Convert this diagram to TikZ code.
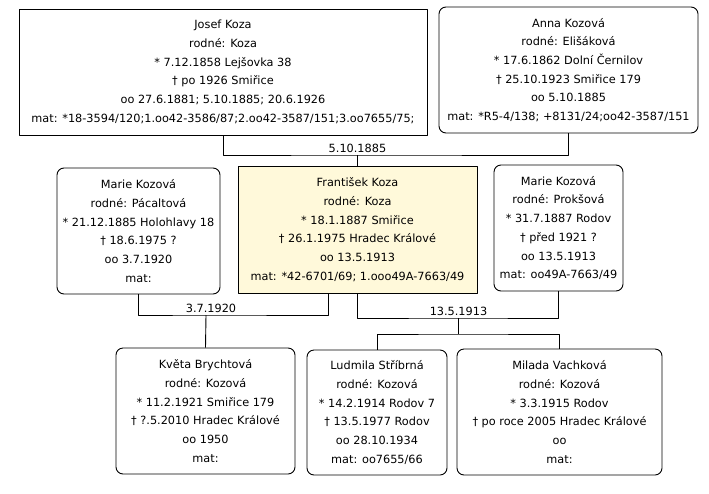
\documentclass[tikz,border=0pt]{standalone}
\usepackage{fontspec}
\setmainfont{DejaVu Sans}
\definecolor{zluta}{RGB}{255,249,218}
\begin{document}
\begin{tikzpicture}[x=1pt,y=-1pt,line join=round,
    font=\fontsize{11.3}{18.7}\selectfont,
    osoba/.style={draw,rectangle,align=center,inner sep=0pt,line width=0.9pt},
    zena/.style={osoba,rounded corners=7pt},
    hlavni/.style={osoba,fill=zluta},
    spoj/.style={line width=0.9pt},
    datum/.style={anchor=south,inner sep=2.5pt}]

  \useasboundingbox (0,0) rectangle (709,493);

  % ---- rodice -------------------------------------------------------------
  \node[osoba,minimum width=408pt,minimum height=126pt] (josef) at (223,72)
    {Josef Koza\\rodné: Koza\\* 7.12.1858 Lejšovka 38\\† po 1926 Smiřice\\
     oo 27.6.1881; 5.10.1885; 20.6.1926\\
     mat: *18-3594/120;1.oo42-3586/87;2.oo42-3587/151;3.oo7655/75;};
  \node[zena,minimum width=259pt,minimum height=126pt] (anna) at (568.5,70)
    {Anna Kozová\\rodné: Elišáková\\* 17.6.1862 Dolní Černilov\\
     † 25.10.1923 Smiřice 179\\oo 5.10.1885\\mat: *R5-4/138; +8131/24;oo42-3587/151};

  % ---- frantisek a jeho manzelky ------------------------------------------
  \node[hlavni,minimum width=239pt,minimum height=127pt] (frantisek) at (357.5,229.5)
    {František Koza\\rodné: Koza\\* 18.1.1887 Smiřice\\† 26.1.1975 Hradec Králové\\
     oo 13.5.1913\\mat: *42-6701/69; 1.ooo49A-7663/49};
  \node[zena,minimum width=163pt,minimum height=126pt] (marieP) at (138.5,231)
    {Marie Kozová\\rodné: Pácaltová\\* 21.12.1885 Holohlavy 18\\† 18.6.1975 ?\\
     oo 3.7.1920\\mat:};
  \node[zena,minimum width=129pt,minimum height=126pt] (marieR) at (558.5,228)
    {Marie Kozová\\rodné: Prokšová\\* 31.7.1887 Rodov\\† před 1921 ?\\
     oo 13.5.1913\\mat: oo49A-7663/49};

  % ---- deti ---------------------------------------------------------------
  \node[zena,minimum width=179pt,minimum height=126pt] (kveta) at (205.5,411)
    {Květa Brychtová\\rodné: Kozová\\* 11.2.1921 Smiřice 179\\
     † ?.5.2010 Hradec Králové\\oo 1950\\mat:};
  \node[zena,minimum width=140pt,minimum height=125pt] (ludmila) at (377,412.5)
    {Ludmila Stříbrná\\rodné: Kozová\\* 14.2.1914 Rodov 7\\† 13.5.1977 Rodov\\
     oo 28.10.1934\\mat: oo7655/66};
  \node[zena,minimum width=205pt,minimum height=126pt] (milada) at (559.5,412)
    {Milada Vachková\\rodné: Kozová\\* 3.3.1915 Rodov\\
     † po roce 2005 Hradec Králové\\oo\\mat:};

  % ---- svatby -------------------------------------------------------------
  \coordinate (s1) at (357.5,155);
  \coordinate (s2) at (206,315);
  \coordinate (s3) at (458.5,318);
  \coordinate (v3) at (458.5,334);

  \draw[spoj] (josef.south) |- (s1) -| (anna.south);
  \draw[spoj] (s1) -- (frantisek.north);
  \node[datum] at (s1) {5.10.1885};

  \draw[spoj] (marieP.south) |- (s2) -| ([xshift=-29.5pt]frantisek.south);
  \draw[spoj] (s2) -- (kveta.north);
  \node[datum,xshift=5pt] at (s2) {3.7.1920};

  \draw[spoj] (frantisek.south) |- (s3) -| (marieR.south);
  \draw[spoj] (s3) -- (v3);
  \draw[spoj] (ludmila.north) |- (v3) -| (milada.north);
  \node[datum] at (s3) {13.5.1913};

\end{tikzpicture}
\end{document}
